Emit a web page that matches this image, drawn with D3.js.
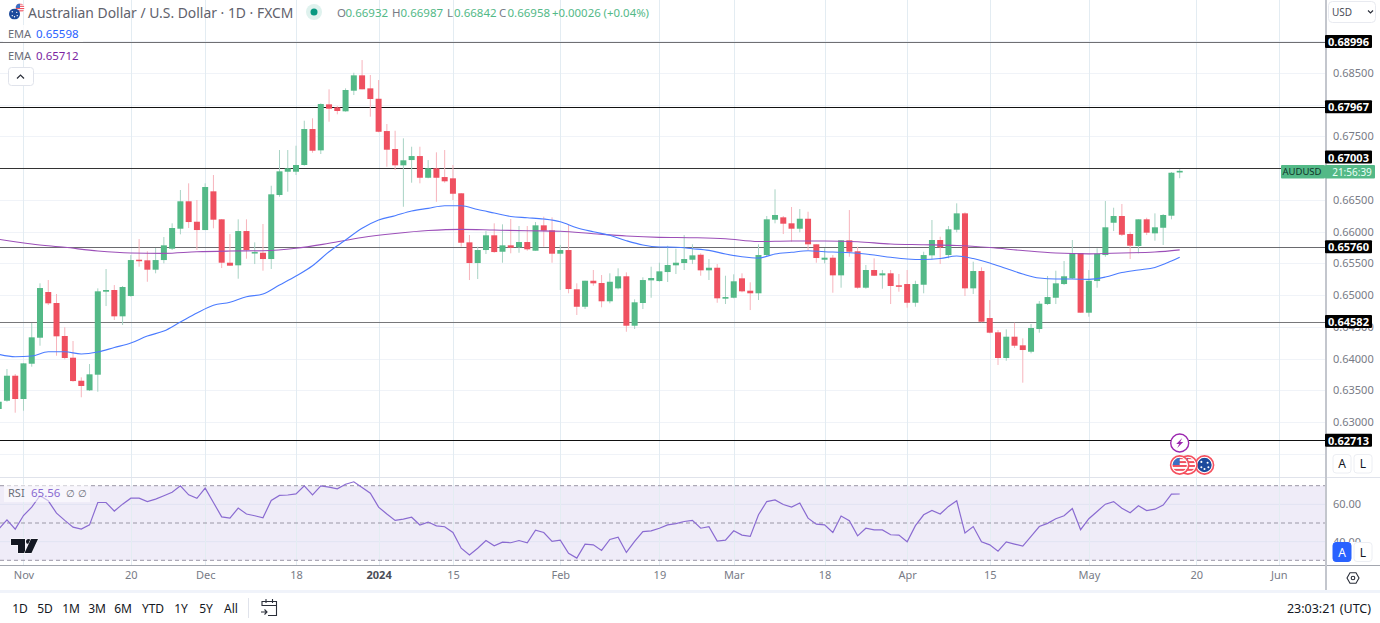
<!DOCTYPE html>
<html>
<head>
<meta charset="utf-8">
<script src="https://d3js.org/d3.v7.min.js"></script>
<style>
  html, body { margin: 0; padding: 0; background: #fff; overflow: hidden; }
  svg { display: block; }
  text { font-family: "Noto Sans", sans-serif; }
</style>
</head>
<body>
<div id="chart"></div>
<script>
// Prices are written in points (1 point = 0.00001), one entry per daily bar
const opens = [63205,63335,63729,63362,63918,64328,65048,64875,64355,64013,
63650,63499,63745,65053,65080,64665,64985,65557,65548,65400,
65552,65731,66046,66478,66156,66025,66635,66194,65510,65469,
66009,65667,65667,65568,66577,66944,66944,67050,67617,67281,
68006,67959,67896,68221,68463,68258,68094,67585,67302,67045,
67128,67191,66849,66998,66860,66840,66604,65831,65505,65710,
65942,65683,65784,65753,65836,65699,66099,66020,65652,65710,
65091,64816,65226,65190,64902,65106,65296,64517,64875,65232,
65221,65363,65469,65505,65557,65636,65390,65431,64943,64958,
65264,65069,65028,65631,66188,66225,66131,66046,66203,65800,
65557,65589,65311,65863,65690,65116,65395,65311,65343,65154,
65174,64879,65163,65626,65868,65631,66030,66288,65106,65379,
64638,64413,64008,64344,64208,64107,64465,64859,64958,65174,
65264,65663,64722,65221,65631,66140,66246,65962,65773,66194,
65973,66061,66251,66932];
const highs = [63340,63835,63756,63929,64560,65185,65237,65017,64492,64276,
63704,63913,65106,65411,65158,65143,65631,65883,65690,65742,
65915,66131,66656,66761,66498,66761,66892,66199,65962,66194,
66194,65831,66120,66723,67286,67286,67354,67748,67786,68022,
68243,67979,68258,68504,68704,68468,68389,67696,67590,67470,
67338,67338,67128,67250,67286,67050,66608,65946,65762,66009,
66131,66115,66199,66088,66088,66151,66235,66225,65789,66104,
65185,65226,65395,65316,65343,65422,65358,64933,65280,65447,
65510,65778,65731,65946,65800,65658,65568,65489,65305,65327,
65343,65201,65800,66246,66667,66246,66388,66356,66314,65800,
65737,65631,65863,66340,65762,65474,65579,65395,65395,65332,
65395,65226,65683,66183,65920,66088,66446,66304,65526,65437,
64922,64449,64460,64564,64318,64544,64906,65300,65384,65537,
65868,65663,65395,65737,66482,66377,66435,65998,66194,66219,
66288,66277,66939,66987];
const lows = [63157,63319,63146,63177,63871,64202,64843,64044,63987,63634,
63389,63488,63477,64827,64607,64528,64974,65447,65210,65343,
65500,65710,65957,66057,65710,66025,66052,65426,65463,65258,
65573,65489,65384,65411,66550,66629,66892,67039,67243,67223,
67732,67849,67890,68153,68243,67811,67565,67023,66971,66392,
66771,66761,66840,66471,66771,66498,65762,65237,65253,65647,
65667,65510,65658,65667,65699,65699,65762,65510,65080,65028,
64686,64780,65147,64807,64870,65091,64422,64465,64780,64958,
65210,65206,65332,65395,65489,65305,65237,64879,64859,64949,
65043,64764,64922,65615,66131,65962,65841,65989,65710,65510,
65500,65037,65116,65604,65100,65100,65300,65100,64859,65053,
64801,64816,65028,65563,65489,65579,65989,64985,65017,64571,
64397,63898,63965,64166,63619,64082,64407,64843,64859,65158,
65253,64722,64659,65116,65604,66009,65931,65568,65658,65946,
65857,65789,66194,66842];
const closes = [63319,63729,63362,63924,64334,65111,64870,64350,64008,63645,
63567,63751,65059,65080,64665,65127,65552,65541,65400,65552,
65784,66057,66478,66151,66025,66703,66188,65510,65463,66009,
65710,65678,65568,66588,66950,66998,67050,67617,67275,68011,
67937,67901,68232,68463,68243,68090,67574,67291,67045,67124,
67191,66849,66998,66849,66793,66597,65825,65505,65710,65942,
65678,65784,65746,65836,65721,66099,66014,65652,65710,65095,
64816,65226,65185,64902,65210,65296,64517,64886,65237,65269,
65374,65474,65510,65568,65626,65390,65431,64949,64969,65217,
65059,65028,65631,66194,66262,66125,66046,66203,65800,65584,
65589,65311,65863,65683,65116,65395,65305,65343,65143,65138,
64879,65174,65631,65868,65753,66036,66288,65106,65379,64580,
64407,64008,64344,64202,64134,64481,64864,64969,65185,65296,
65663,64722,65226,65652,66068,66246,65951,65778,66194,65983,
66068,66262,66928,66958];

// EMA readings, taken every second bar (fast) and every fourth bar (slow)
const emaFastBars = [0,2,4,6,8,10,12,14,16,18,20,22,24,26,28,30,32,34,36,38,40,42,44,46,48,50,52,54,56,58,60,62,64,66,68,70,72,74,76,78,80,82,84,86,88,90,92,94,96,98,100,102,104,106,108,110,112,114,116,118,120,122,124,126,128,130,132,134,136,138,140,142,143];
const emaFast = [64066,64028,64039,64107,64107,64071,64102,64173,64244,64355,64433,64575,64717,64839,64886,64974,65017,65158,65300,65463,65683,65868,66052,66183,66251,66325,66367,66408,66408,66348,66293,66238,66219,66199,66156,66061,65998,65942,65857,65789,65757,65753,65731,65705,65647,65604,65584,65647,65674,65699,65683,65674,65658,65631,65595,65568,65560,65576,65615,65576,65505,65418,65332,65269,65253,65253,65248,65284,65355,65395,65434,65537,65598];
const emaSlowBars = [0,4,8,12,16,20,24,28,32,36,40,44,48,52,56,60,64,68,72,76,80,84,88,92,96,100,104,108,112,116,120,124,128,132,136,140,143];
const emaSlow = [65879,65805,65753,65694,65663,65658,65683,65694,65699,65737,65816,65907,65970,66017,66036,66025,66014,66005,65967,65931,65910,65904,65888,65844,65852,65852,65841,65805,65794,65781,65749,65702,65663,65650,65663,65678,65712];

const rsi = [46.7,51.7,46.7,54.0,58.5,64.6,61.9,55.3,51.4,47.8,46.7,49.0,61.0,61.0,56.4,60.1,63.3,63.3,61.5,62.8,
64.6,66.5,69.9,65.1,63.2,68.7,61.0,53.3,52.6,58.0,54.8,53.9,52.8,62.1,64.8,65.0,65.6,69.9,65.1,69.9,
69.2,68.3,70.8,72.1,69.0,66.0,58.5,54.8,51.4,52.1,53.1,48.9,50.5,48.5,48.0,44.9,36.5,
32.9,36.5,40.6,37.8,39.7,39.4,40.6,39.4,46.2,44.9,40.1,40.8,33.8,31.2,38.7,38.3,35.3,41.2,42.4,34.2,40.1,
45.4,45.8,47.2,49.0,49.7,50.8,51.4,47.2,48.0,40.3,40.8,45.8,43.5,42.8,54.4,61.5,62.4,59.9,58.5,60.7,52.6,
49.4,49.0,44.9,53.7,51.2,43.1,47.2,46.3,46.3,43.7,43.5,39.9,48.6,
54.4,56.7,54.8,58.9,61.9,44.6,48.1,39.9,38.3,34.9,39.9,38.7,37.6,42.8,48.1,49.8,52.3,53.9,57.8,46.4,52.3,
56.2,60.1,61.5,57.9,55.5,59.2,56.7,57.4,59.6,65.5,65.56];

const levels = [68996, 67967, 67003, 65760, 64582, 62713];
const levelShades = ["#6f6f73", "#111", "#333", "#6a6a6e", "#77777a", "#111"];
const priceTicks = [69000,68500,68000,67500,67000,66500,66000,65500,65000,64500,64000,63500,63000,62500];
const priceTickLabels = [68500,67500,66500,66000,65500,65000,64500,64000,63500,63000];
const rsiGrid = [60, 40];
const rsiBands = [70, 50, 30];

// Bar numbers where the time axis puts its labels
const timeBars = [3,16,25,36,46,55,68,80,89,100,110,120,132,145,155];
const timeLabels = ["Nov","20","Dec","18","2024","15","Feb","19","Mar","18","Apr","15","May","20","Jun"];
const ranges = ["1D","5D","1M","3M","6M","YTD","1Y","5Y","All"];

const width = 1380, height = 623;
const axisX = 1326;
const green = "#53b987", red = "#ef5060", green2 = "#a8d3c4", red2 = "#f7b4bc";
const gridH = "#f0f3f8", gridV = "#e3ecf2", tickColor = "#787b86";
const blue = "#2962ff", purple = "#7b1fa2", rsiColor = "#8a6bd1";

const svg = d3.select("#chart").append("svg")
    .attr("width", width)
    .attr("height", height)
    .attr("viewBox", `0 0 ${width} ${height}`);

// Scales
const x = d3.scaleLinear().domain([0, 143]).range([-1.3, 1179.7]);
const y = d3.scaleLinear().domain([62500, 68500]).range([453.7, 73]);
const yRsi = d3.scaleLinear().domain([30, 70]).range([560.3, 485.7]);

const defs = svg.append("defs");
defs.append("clipPath").attr("id", "plot").append("rect")
    .attr("x", 0).attr("y", 0).attr("width", axisX).attr("height", 478);

function label(parent, px, py, str, size, color, anchor, weight) {
    return parent.append("text")
        .attr("x", px).attr("y", py)
        .attr("font-size", size)
        .attr("fill", color)
        .attr("text-anchor", anchor || "start")
        .attr("font-weight", weight || "normal")
        .attr("dominant-baseline", "central")
        .text(str);
}

// Grid
svg.append("g").selectAll("line").data(priceTicks).enter().append("line")
    .attr("x1", 0).attr("x2", axisX)
    .attr("y1", d => Math.round(y(d)) + 0.5).attr("y2", d => Math.round(y(d)) + 0.5)
    .attr("stroke", gridH);

// RSI band
svg.append("rect")
    .attr("x", 0).attr("width", axisX)
    .attr("y", yRsi(70)).attr("height", yRsi(30) - yRsi(70))
    .attr("fill", "#efecf8");

svg.append("g").selectAll("line").data(rsiGrid).enter().append("line")
    .attr("x1", 0).attr("x2", axisX)
    .attr("y1", d => yRsi(d)).attr("y2", d => yRsi(d))
    .attr("stroke", "#e1e3f3");

svg.append("g").selectAll("line").data(timeBars).enter().append("line")
    .attr("x1", d => Math.round(x(d)) + 0.5).attr("x2", d => Math.round(x(d)) + 0.5)
    .attr("y1", 0).attr("y2", 565)
    .attr("stroke", gridV);

// Horizontal levels sit under the candles
svg.append("g").selectAll("line").data(levels).enter().append("line")
    .attr("x1", 0).attr("x2", axisX)
    .attr("y1", d => Math.round(y(d)) + 0.5).attr("y2", d => Math.round(y(d)) + 0.5)
    .attr("stroke", (d, i) => levelShades[i]);

svg.append("g").selectAll("line").data(rsiBands).enter().append("line")
    .attr("x1", 0).attr("x2", axisX)
    .attr("y1", d => yRsi(d)).attr("y2", d => yRsi(d))
    .attr("stroke", "#9a97a6")
    .attr("stroke-dasharray", "4,3");

// Candles
const bars = d3.range(opens.length);
const plot = svg.append("g").attr("clip-path", "url(#plot)");
const up = i => closes[i] >= opens[i];

plot.append("g").selectAll("line").data(bars).enter().append("line")
    .attr("x1", i => x(i)).attr("x2", i => x(i))
    .attr("y1", i => y(highs[i])).attr("y2", i => y(lows[i]))
    .attr("stroke", i => up(i) ? green2 : red2);

plot.append("g").selectAll("rect").data(bars).enter().append("rect")
    .attr("x", i => x(i) - 3)
    .attr("width", 6)
    .attr("y", i => y(Math.max(opens[i], closes[i])))
    .attr("height", i => Math.max(1.5, Math.abs(y(opens[i]) - y(closes[i]))))
    .attr("fill", i => up(i) ? green : red);

// EMA lines
const emaLine = (barList, values) => d3.line()
    .x((d, i) => x(barList[i]))
    .y(d => y(d))
    .curve(d3.curveMonotoneX)(values);

plot.append("path").attr("d", emaLine(emaSlowBars, emaSlow))
    .attr("fill", "none").attr("stroke", "#9c4fb8").attr("stroke-width", 1.1);
plot.append("path").attr("d", emaLine(emaFastBars, emaFast))
    .attr("fill", "none").attr("stroke", "#4a7bff").attr("stroke-width", 1.1);

// RSI line
svg.append("path")
    .datum(rsi)
    .attr("d", d3.line().x((d, i) => x(i)).y(d => yRsi(d)))
    .attr("fill", "none")
    .attr("stroke", rsiColor)
    .attr("stroke-width", 1.2);

// Pane borders
svg.append("line").attr("x1", 0).attr("x2", width).attr("y1", 477.5).attr("y2", 477.5).attr("stroke", "#e0e3eb");
svg.append("line").attr("x1", 0).attr("x2", width).attr("y1", 565.5).attr("y2", 565.5).attr("stroke", "#a3a6af").attr("stroke-width", 1.2);
svg.append("line").attr("x1", axisX).attr("x2", axisX).attr("y1", 0).attr("y2", 590).attr("stroke", "#c3c6cd").attr("stroke-width", 2);
svg.append("rect").attr("x", 0).attr("y", 590).attr("width", width).attr("height", 3).attr("fill", "#f0f3fa");

// Axes
const priceAxis = svg.append("g")
    .attr("transform", `translate(${axisX + 7},0)`)
    .call(d3.axisRight(y).tickValues(priceTickLabels).tickSize(0).tickPadding(0).tickFormat(d => (d / 1e5).toFixed(5)));
priceAxis.select(".domain").remove();
priceAxis.selectAll("text").attr("font-size", 11).attr("fill", tickColor).attr("font-family", null);

const timeAxis = svg.append("g")
    .attr("transform", "translate(0,565)")
    .call(d3.axisBottom(x).tickValues(timeBars).tickSize(0).tickPadding(6).tickFormat((d, i) => timeLabels[i]));
timeAxis.select(".domain").remove();
timeAxis.selectAll("text")
    .attr("font-size", 11)
    .attr("font-family", null)
    .attr("fill", (d, i) => timeLabels[i] === "2024" ? "#4a4d57" : tickColor)
    .attr("font-weight", (d, i) => timeLabels[i] === "2024" ? "bold" : "normal");

const rsiAxis = svg.append("g")
    .attr("transform", `translate(${axisX + 7},0)`)
    .call(d3.axisRight(yRsi).tickValues(rsiGrid).tickSize(0).tickPadding(0).tickFormat(d3.format(".2f")));
rsiAxis.select(".domain").remove();
rsiAxis.selectAll("text").attr("font-size", 11).attr("fill", tickColor).attr("font-family", null);

// Level price tags, the 0.67003 one is pushed up by the symbol tag
const tags = svg.append("g");
levels.forEach(v => {
    const cy = v === 67003 ? 157 : y(v);
    tags.append("rect").attr("x", axisX - 1).attr("y", cy - 6.5).attr("width", 47).attr("height", 13).attr("fill", "#000").attr("rx", 1);
    label(tags, axisX + 22.5, cy, (v / 1e5).toFixed(5), 11, "#fff", "middle", "bold");
});

// Symbol tag
svg.append("rect").attr("x", 1281).attr("y", 165).attr("width", 44).attr("height", 13.5).attr("rx", 1).attr("fill", green);
svg.append("rect").attr("x", 1325).attr("y", 165).attr("width", 50).attr("height", 13.5).attr("rx", 1).attr("fill", green);
label(svg, 1302, 171.7, "AUDUSD", 9.5, "#12352a", "middle");
label(svg, 1352, 171.7, "21:56:39", 10, "#eafff6", "middle");

// Header legend
const head = svg.append("g");
const flag = (cx, cy, r, kind, ring) => {
    const id = "f" + Math.round(cx) + "_" + Math.round(cy);
    defs.append("clipPath").attr("id", id).append("circle").attr("cx", cx).attr("cy", cy).attr("r", r);
    const g = svg.append("g");
    const f = g.append("g").attr("clip-path", `url(#${id})`);
    if (kind === "us") {
        f.append("rect").attr("x", cx - r).attr("y", cy - r).attr("width", 2 * r).attr("height", 2 * r).attr("fill", "#fff");
        d3.range(0, 4).forEach(k => f.append("rect")
            .attr("x", cx - r).attr("y", cy - r + k * r / 2).attr("width", 2 * r).attr("height", r / 4).attr("fill", "#ef5060"));
        f.append("rect").attr("x", cx - r).attr("y", cy - r).attr("width", r).attr("height", r).attr("fill", "#3d6fc4");
    } else {
        f.append("rect").attr("x", cx - r).attr("y", cy - r).attr("width", 2 * r).attr("height", 2 * r).attr("fill", "#1d4a9c");
        [[-0.4, -0.4], [0.4, -0.3], [0.5, 0.3], [0, 0.5], [-0.4, 0.3]].forEach(p => f.append("circle")
            .attr("cx", cx + p[0] * r).attr("cy", cy + p[1] * r).attr("r", r * 0.13).attr("fill", "#fff"));
    }
    if (ring) {
        g.append("circle").attr("cx", cx).attr("cy", cy).attr("r", r).attr("fill", "none").attr("stroke", "#fff").attr("stroke-width", 1.2);
        g.append("circle").attr("cx", cx).attr("cy", cy).attr("r", r + 1.3).attr("fill", "none").attr("stroke", "#f5515f").attr("stroke-width", 1.6);
    }
};
flag(20, 8, 4.5, "us", false);
flag(14.5, 14, 5.5, "au", false);

label(head, 28, 12, "Australian Dollar / U.S. Dollar · 1D · FXCM", 13.9, "#5f626c");
head.append("circle").attr("cx", 314).attr("cy", 12).attr("r", 8).attr("fill", "#dff2ee");
head.append("circle").attr("cx", 314).attr("cy", 12).attr("r", 3.5).attr("fill", "#089981");

[["O", "0.66932", 337], ["H", "0.66987", 392], ["L", "0.66842", 447], ["C", "0.66958", 499]].forEach(d => {
    label(head, d[2], 12, d[0], 11.5, "#787b86");
    label(head, d[2] + (d[0] === "L" ? 7 : 8.5), 12, d[1], 11.5, green);
});
label(head, 552, 12, "+0.00026 (+0.04%)", 11.4, green);

head.append("rect").attr("x", 3).attr("y", 25).attr("width", 80).attr("height", 17).attr("fill", "#fff").attr("opacity", 0.8);
label(head, 8, 33.5, "EMA", 11, "#6a6d78");
label(head, 36, 33.5, "0.65598", 11.5, blue);
label(head, 8, 55, "EMA", 11, "#6a6d78");
label(head, 36, 55, "0.65712", 11.5, purple);

// Collapse button
head.append("rect").attr("x", 8.5).attr("y", 67.5).attr("width", 25).attr("height", 18).attr("rx", 3)
    .attr("fill", "#fff").attr("stroke", "#e0e3eb");
head.append("path").attr("d", "M17 78.5 L20.5 75 L24 78.5").attr("fill", "none").attr("stroke", "#2a2e39").attr("stroke-width", 1.2);

// RSI legend
svg.append("rect").attr("x", 4).attr("y", 484).attr("width", 86).attr("height", 18).attr("fill", "#fff").attr("opacity", 0.55);
label(svg, 8, 492.5, "RSI", 11, "#6a6d78");
label(svg, 31, 492.5, "65.56", 11.5, "#8a6bd1");
label(svg, 65.5, 492.5, "∅", 10, "#6a6d78");
label(svg, 78, 492.5, "∅", 10, "#6a6d78");

// Logo
const logo = svg.append("g").attr("fill", "#131722").attr("stroke", "#fff").attr("stroke-width", 1).attr("paint-order", "stroke");
logo.append("path").attr("d", "M11 539 H25 V553 H18 V545 H11 Z");
logo.append("circle").attr("cx", 28.5).attr("cy", 541.5).attr("r", 2.5);
logo.append("path").attr("d", "M38 539 L31.5 553 H24.5 L31 539 Z");

// Currency select
svg.append("rect").attr("x", 1328.5).attr("y", 1.5).attr("width", 47).attr("height", 21).attr("rx", 4)
    .attr("fill", "#fff").attr("stroke", "#e8eaf0");
label(svg, 1332, 12, "USD", 10, "#4a4d57");
svg.append("path").attr("d", "M1368 10.5 L1370.5 13 L1373 10.5").attr("fill", "none").attr("stroke", "#2a2e39").attr("stroke-width", 1.1);

// A / L buttons, on a white strip that hides whatever axis label runs under them
svg.append("rect").attr("x", 1328).attr("y", 542).attr("width", 50).attr("height", 22).attr("fill", "#fff");
const scaleBtn = (bx, by, h, txt, active) => {
    svg.append("rect").attr("x", bx).attr("y", by).attr("width", 18).attr("height", h).attr("rx", 3)
        .attr("fill", active ? blue : "#fff").attr("stroke", active ? blue : "#eceef3");
    label(svg, bx + 9, by + h / 2, txt, 12, active ? "#fff" : "#131722", "middle");
};
scaleBtn(1333, 454.5, 18.5, "A", false);
scaleBtn(1354, 454.5, 18.5, "L", false);
scaleBtn(1333, 542.5, 19, "A", true);
scaleBtn(1354, 542.5, 19, "L", false);

// Settings icon
svg.append("path").attr("d", "M1347 578 L1350 572.7 L1356 572.7 L1359 578 L1356 583.3 L1350 583.3 Z")
    .attr("fill", "none").attr("stroke", "#2a2e39").attr("stroke-width", 1.1);
svg.append("circle").attr("cx", 1353).attr("cy", 578).attr("r", 1.8).attr("fill", "none").attr("stroke", "#2a2e39").attr("stroke-width", 1.1);

// Event markers under the last bars
const eventBolt = 143;
svg.append("circle").attr("cx", x(eventBolt)).attr("cy", 443).attr("r", 9).attr("fill", "#fff").attr("stroke", "#9c27b0").attr("stroke-width", 1.4);
svg.append("path").attr("transform", `translate(${x(eventBolt)},443)`)
    .attr("d", "M2.5 -5 L-3.5 1 L-0.5 1 L-2.5 5 L3.5 -1 L0.5 -1 Z").attr("fill", "#9c27b0");
flag(x(146), 465, 7.8, "au", true);
flag(x(144), 465, 7.8, "us", true);
flag(x(143), 465, 7.8, "us", true);

// Bottom toolbar
const rangePos = [20, 45, 71, 97, 123, 153, 181, 206, 231];
ranges.forEach((r, i) => label(svg, rangePos[i], 608, r, 12, "#131722", "middle"));
svg.append("line").attr("x1", 248.5).attr("x2", 248.5).attr("y1", 598).attr("y2", 618).attr("stroke", "#e0e3eb");
svg.append("path").attr("d", "M262 606 V601.5 H276.5 V615.5 H268 M262 605.5 H276.5 M266 599 V603 M272.5 599 V603 M261 612 H267 M264.5 609.5 L267 612 L264.5 614.5")
    .attr("fill", "none").attr("stroke", "#2a2e39").attr("stroke-width", 1.1);
label(svg, 1371, 608, "23:03:21 (UTC)", 12.5, "#131722", "end");
</script>
</body>
</html>
